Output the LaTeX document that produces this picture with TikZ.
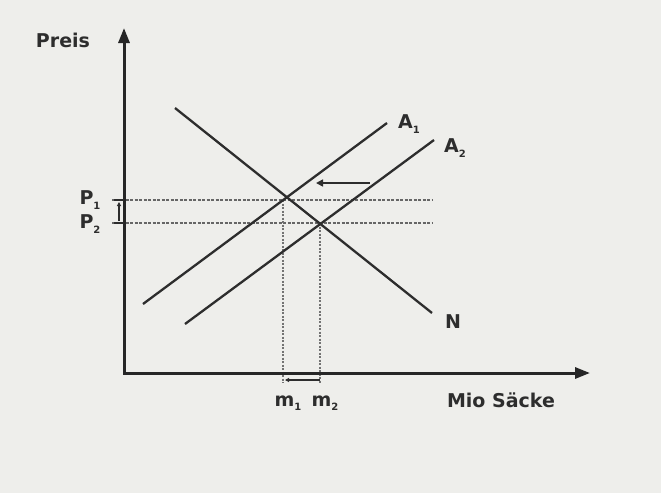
\documentclass[tikz,border=0pt]{standalone}
\usepackage{fontspec}
\setmainfont{DejaVu Sans}
\usetikzlibrary{arrows.meta}
\definecolor{bg}{RGB}{238,238,235}
\definecolor{ink}{RGB}{45,45,45}
\newcommand\sbx[1]{\raisebox{-0.4ex}{\fontsize{10}{11}\selectfont #1}}
\begin{document}
\begin{tikzpicture}[x=1pt,y=-1pt,
 lbl/.style={font=\bfseries\fontsize{19}{21}\selectfont, text=ink, inner sep=0},
 axisline/.style={line width=3pt, draw=black!85, {Triangle[length=15pt,width=11pt]}-{Triangle[length=15pt,width=11pt]}},
 curve/.style={line width=2.3pt, draw=ink},
 level/.style={line width=1.9pt, draw=black!60, dash pattern=on 3pt off 1.5pt},
 drop/.style={line width=1.9pt, draw=black!55, dash pattern=on 2pt off 1.5pt},
 shiftarr/.style={line width=1.6pt, draw=ink, -{Triangle[length=7pt,width=7pt]}},
 tinyarr/.style={line width=1.4pt, draw=ink, -{Triangle[length=4pt,width=4pt]}},
 tick/.style={line width=2pt, draw=ink},
]
\fill[bg] (0,0) rectangle (661,493);
\useasboundingbox (0,0) rectangle (661,493);
% coordinates
\coordinate (ytop) at (124,28);
\coordinate (O) at (124,373);
\coordinate (xend) at (590,373);
\coordinate (a1s) at (143,304);
\coordinate (a1e) at (387,123);
\coordinate (a2s) at (185,324);
\coordinate (a2e) at (434,140);
\coordinate (ns) at (175,108);
\coordinate (ne) at (432,313);
\coordinate (p1l) at (112,200);
\coordinate (p1r) at (432,200);
\coordinate (p2l) at (112,223);
\coordinate (p2r) at (432,223);
\coordinate (e1) at (283,200);
\coordinate (e2) at (320,223);
\coordinate (f1) at (283,383);
\coordinate (f2) at (320,383);
\coordinate (sh1) at (370,183);
\coordinate (sh2) at (316,183);
\coordinate (ya) at (119,221);
\coordinate (yb) at (119,202);
\coordinate (xa) at (320,380);
\coordinate (xb) at (285,380);
% labels
\node[lbl] (preis) at (63,40) {Preis};
\node[lbl] (mio) at (501,400) {Mio Säcke};
\node[lbl] (lA1) at (409,124) {A\sbx1};
\node[lbl] (lA2) at (455,148) {A\sbx2};
\node[lbl] (lN) at (453,322) {N};
\node[lbl] (lP1) at (90,200) {P\sbx1};
\node[lbl] (lP2) at (90,224) {P\sbx2};
\node[lbl] (lm1) at (288,403) {m\sbx1};
\node[lbl] (lm2) at (325,403) {m\sbx2};
% guide lines
\draw[level] (p1l) -- (p1r);
\draw[level] (p2l) -- (p2r);
\draw[drop] (e1) -- (f1);
\draw[drop] (e2) -- (f2);
% curves
\draw[curve] (a1s) -- (a1e);
\draw[curve] (a2s) -- (a2e);
\draw[curve] (ns) -- (ne);
% axes
\draw[axisline] (ytop) -- (O) -- (xend);
% arrows
\draw[shiftarr] (sh1) -- (sh2);
\draw[tick] (114,200) -- (124,200);
\draw[tick] (114,223) -- (124,223);
\draw[tinyarr] (ya) -- (yb);
\draw[tinyarr] (xa) -- (xb);
\end{tikzpicture}
\end{document}
